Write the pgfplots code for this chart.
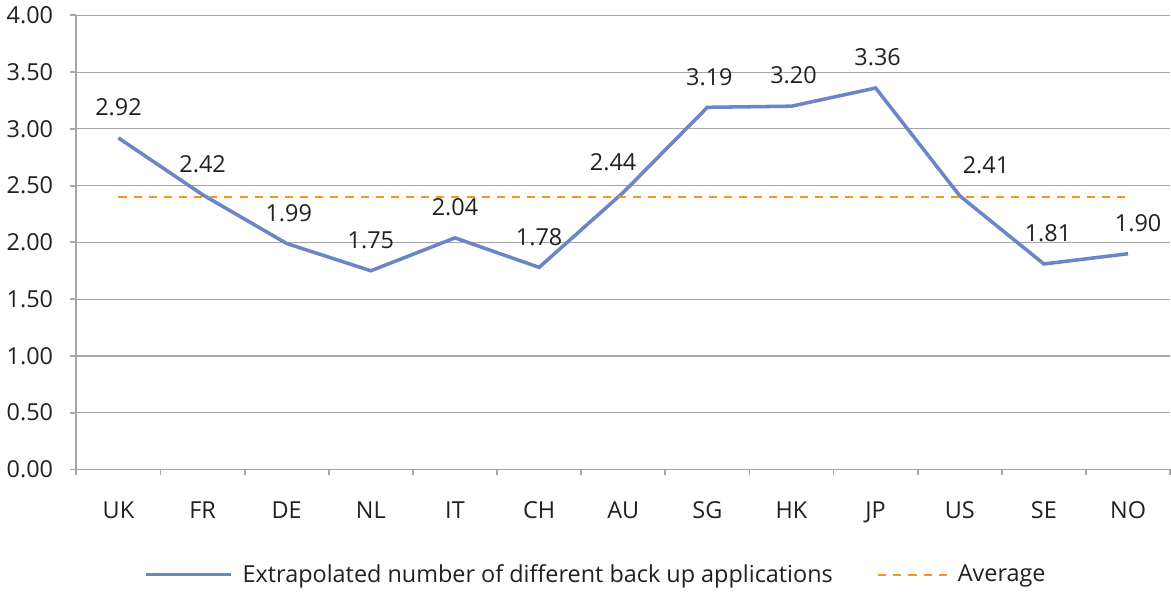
\documentclass[border=0pt]{standalone}
\usepackage{pgfplots}
\usepackage{pgfplotstable}
\pgfplotsset{compat=1.18}
\usepackage{fontspec}
\setmainfont{Open Sans}

\definecolor{lineblue}{HTML}{6B85C7}
\definecolor{avgorange}{HTML}{F7941D}
\definecolor{gridgray}{HTML}{A6A6A6}
\definecolor{txt}{HTML}{231F20}

\newcommand{\lblfont}{\fontsize{11.6}{13}\selectfont}

% x = category index, y = value, dx = label nudge in pt
\pgfplotstableread{
x  y     dx
0  2.92  0
1  2.42  0
2  1.99  1
3  1.75  0
4  2.04  0
5  1.78  0
6  2.44  -5
7  3.19  1
8  3.20  1
9  3.36  1
10 2.41  13
11 1.81  2
12 1.90  5
}\backups

\pgfplotsset{
  longline/.style={legend image code/.code={\draw[##1] (0pt,0pt) -- (42pt,0pt);}},
  shortline/.style={legend image code/.code={\draw[##1] (0pt,0pt) -- (34pt,0pt);}},
}

\begin{document}
\begin{tikzpicture}
  \begin{axis}[
      scale only axis,
      width=542pt,
      height=225pt,
      xmin=-0.5, xmax=12.5,
      ymin=0, ymax=4,
      axis x line*=bottom,
      axis y line*=left,
      axis line style={gridgray, line width=0.9pt},
      xtick={0,...,12},
      xticklabels={UK,FR,DE,NL,IT,CH,AU,SG,HK,JP,US,SE,NO},
      minor xtick={-0.5,0.5,...,12.5},
      ytick={0,0.5,...,4},
      tick align=outside,
      major x tick style={draw=none},
      minor tick style={gridgray, line width=0.9pt},
      major tick length=3pt,
      minor tick length=3pt,
      ytick style={gridgray, line width=0.9pt},
      ymajorgrids,
      major grid style={gridgray, line width=0.6pt},
      yticklabel={\pgfmathprintnumber[fixed,fixed zerofill,precision=2]{\tick}},
      /pgf/number format/assume math mode=true,
      tick label style={font=\lblfont, text=txt},
      xticklabel style={yshift=-9.5pt},
      yticklabel style={xshift=-5pt},
      clip=false,
      legend style={
        at={(0.476,-0.19)}, anchor=north,
        draw=none, fill=none,
        legend columns=2,
        font=\lblfont,
        text=txt,
        /tikz/every odd column/.append style={column sep=3pt},
        /tikz/every even column/.append style={column sep=20pt},
      },
      legend cell align=left,
    ]
    \addplot[
      color=lineblue, line width=1.75pt, mark=none, longline,
      visualization depends on={\thisrow{dx} \as \labeldx},
      nodes near coords={\pgfmathprintnumber[fixed,fixed zerofill,precision=2]{\pgfplotspointmeta}},
      every node near coord/.append style={font=\lblfont, text=txt, anchor=base, inner sep=0pt, yshift=11pt, xshift=\labeldx pt},
    ] table[x=x, y=y] {\backups};
    \addlegendentry{Extrapolated number of different back up applications}
    \addplot[
      color=avgorange, line width=1pt, mark=none, shortline,
      dash pattern=on 4pt off 3.5pt,
    ] coordinates {
      (0, 2.40) (1, 2.40) (2, 2.40) (3, 2.40) (4, 2.40) (5, 2.40) (6, 2.40)
      (7, 2.40) (8, 2.40) (9, 2.40) (10, 2.40) (11, 2.40) (12, 2.40)
    };
    \addlegendentry{Average}
  \end{axis}
\end{tikzpicture}
\end{document}
